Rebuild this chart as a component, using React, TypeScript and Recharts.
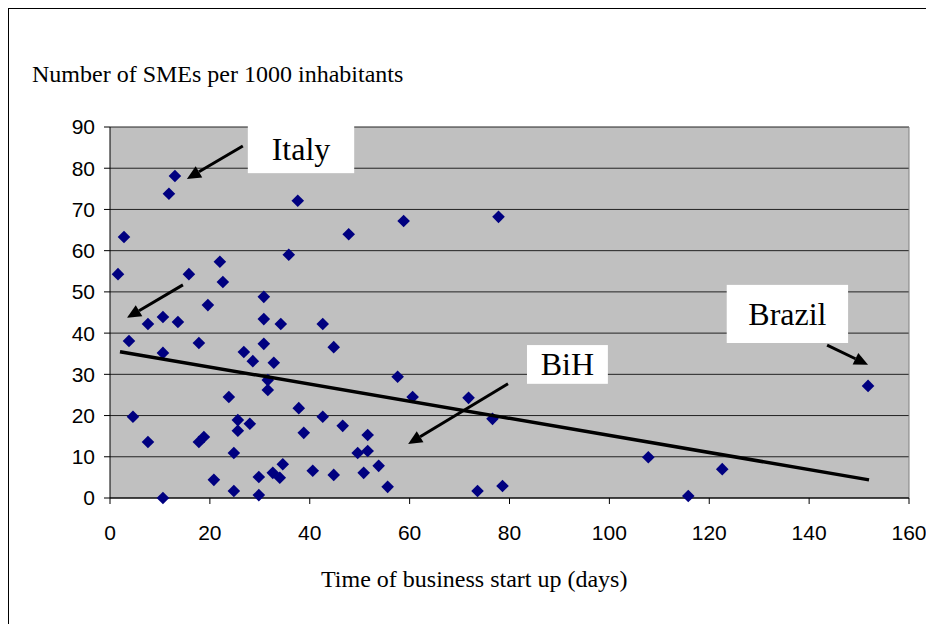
import {
  ScatterChart,
  Scatter,
  XAxis,
  YAxis,
  CartesianGrid,
  ReferenceArea,
  ReferenceLine,
} from 'recharts';

// days to start a business, per country
const DAYS = [
  1.6, 2.8, 3.8, 4.6, 7.6, 7.6, 10.6, 10.6, 10.6, 11.8, 13.0, 13.6, 15.8, 17.8, 17.8, 18.8, 19.6,
  20.8, 22.0, 22.6, 23.8, 24.8, 24.8, 25.6, 25.6, 26.8, 28.0, 28.6, 29.8, 29.8, 30.8, 30.8, 30.8,
  31.6, 31.6, 32.8, 32.6, 34.2, 34.0, 34.6, 35.8, 37.6, 37.8, 38.8, 40.6, 42.6, 42.6, 44.8, 44.8,
  46.6, 47.8, 49.6, 50.8, 51.6, 51.6, 53.8, 55.6, 57.6, 58.8, 60.6, 71.8, 73.6, 76.6, 77.8, 78.6,
  107.8, 115.8, 122.6, 151.8,
];

// SMEs per 1000 inhabitants, same order as DAYS
const SMES = [
  54.3, 63.3, 38.1, 19.7, 13.6, 42.2, 0.0, 43.9, 35.2, 73.8, 78.1, 42.7, 54.3, 37.6, 13.6, 14.8, 46.8,
  4.4, 57.3, 52.4, 24.5, 10.9, 1.7, 18.9, 16.3, 35.4, 18.0, 33.2, 5.1, 0.7, 48.8, 43.4, 37.4,
  28.6, 26.2, 32.8, 6.1, 42.2, 4.9, 8.2, 59.0, 72.1, 21.8, 15.8, 6.6, 42.2, 19.7, 36.6, 5.6,
  17.5, 64.0, 10.9, 6.1, 15.3, 11.4, 7.8, 2.7, 29.4, 67.2, 24.5, 24.3, 1.7, 19.2, 68.2, 2.9,
  9.9, 0.5, 7.0, 27.2,
];

const TREND_DAYS = [2, 152];
const TREND_SMES = [35.5, 4.4];

const X_TICKS = [0, 20, 40, 60, 80, 100, 120, 140, 160];
const Y_TICKS = [0, 10, 20, 30, 40, 50, 60, 70, 80, 90];

const LABELS = ['Italy', 'Brazil', 'BiH'];
const LABEL_X1 = [27.6, 123.5, 83.5];
const LABEL_X2 = [48.9, 147.8, 99.7];
const LABEL_Y1 = [78.8, 37.6, 27.7];
const LABEL_Y2 = [90.3, 51.7, 37.1];

// arrows: tail -> head
const ARROW_FROM_X = [26.6, 14.6, 79.7, 143.6];
const ARROW_FROM_Y = [85.4, 51.7, 27.7, 37.1];
const ARROW_TO_X = [15.4, 3.4, 59.7, 151.8];
const ARROW_TO_Y = [77.4, 43.7, 13.1, 32.3];

const points = DAYS.map((d, i) => ({ x: d, y: SMES[i] }));
const trend = TREND_DAYS.map((d, i) => ({ x: d, y: TREND_SMES[i] }));

const tickStyle = { fill: '#000', fontSize: 21, fontFamily: '"Liberation Sans", Arial, sans-serif' };
const serif = '"Liberation Serif", "Times New Roman", serif';

const Diamond = (props: any) => {
  const { cx, cy } = props;
  if (cx == null || cy == null) return <g />;
  const r = 6.3;
  return (
    <polygon
      points={`${cx},${cy - r} ${cx + r},${cy} ${cx},${cy + r} ${cx - r},${cy}`}
      fill="#000080"
    />
  );
};

const Arrow = (props: any) => {
  const { x1, y1, x2, y2 } = props;
  const a = Math.atan2(y2 - y1, x2 - x1);
  const len = 14;
  const hw = 6.5;
  const bx = x2 - len * Math.cos(a);
  const by = y2 - len * Math.sin(a);
  const px = -Math.sin(a) * hw;
  const py = Math.cos(a) * hw;
  return (
    <g>
      <line x1={x1} y1={y1} x2={bx} y2={by} stroke="#000" strokeWidth={3} />
      <polygon points={`${x2},${y2} ${bx + px},${by + py} ${bx - px},${by - py}`} fill="#000" />
    </g>
  );
};

const labelBox = (text: string) => (props: any) => {
  const { x, y, width, height } = props;
  return (
    <g>
      <rect x={x} y={y} width={width} height={height} fill="#fff" />
      <text
        x={x + width / 2}
        y={y + height / 2 + 11}
        textAnchor="middle"
        fontSize={32}
        fontFamily={serif}
        fill="#000"
      >
        {text}
      </text>
    </g>
  );
};

export default function App() {
  return (
    <div style={{ position: 'relative', width: 926, height: 616 }}>
      <div
        style={{ position: 'absolute', left: 0, top: 0, width: 926, height: 1, background: '#000', zIndex: 2 }}
      />
      <div
        style={{ position: 'absolute', left: 0, top: 0, width: 1, height: 616, background: '#000', zIndex: 2 }}
      />
      <div
        style={{
          position: 'absolute',
          left: 24,
          top: 54,
          fontFamily: serif,
          fontSize: 24,
          lineHeight: '24px',
          whiteSpace: 'nowrap',
        }}
      >
        Number of SMEs per 1000 inhabitants
      </div>
      <div
        style={{
          position: 'absolute',
          left: 313,
          top: 559,
          fontFamily: serif,
          fontSize: 24,
          lineHeight: '24px',
          whiteSpace: 'nowrap',
        }}
      >
        Time of business start up (days)
      </div>
      <div style={{ position: 'absolute', left: 1, top: 0 }}>
        <ScatterChart
          width={925}
          height={608}
          margin={{ top: 119, right: 25, left: 0, bottom: 58 }}
        >
          <CartesianGrid vertical={false} stroke="#222" fill="#c0c0c0" fillOpacity={1} />
          <XAxis
            type="number"
            dataKey="x"
            domain={[0, 160]}
            ticks={X_TICKS}
            interval={0}
            height={60}
            tick={tickStyle}
            tickSize={6}
            tickMargin={21}
            axisLine={{ stroke: '#000' }}
            tickLine={{ stroke: '#000' }}
          />
          <YAxis
            type="number"
            dataKey="y"
            domain={[0, 90]}
            ticks={Y_TICKS}
            interval={0}
            width={101}
            tick={tickStyle}
            tickSize={6}
            tickMargin={9}
            axisLine={{ stroke: '#000' }}
            tickLine={{ stroke: '#000' }}
          />
          <ReferenceLine x={160} stroke="#808080" />
          <Scatter data={points} shape={<Diamond />} isAnimationActive={false} />
          <Scatter
            data={trend}
            line={{ stroke: '#000', strokeWidth: 3.5 }}
            shape={() => <g />}
            isAnimationActive={false}
          />
          {LABELS.map((t, i) => (
            <ReferenceArea
              key={t}
              x1={LABEL_X1[i]}
              x2={LABEL_X2[i]}
              y1={LABEL_Y1[i]}
              y2={LABEL_Y2[i]}
              ifOverflow="visible"
              shape={labelBox(t)}
            />
          ))}
          {ARROW_FROM_X.map((x, i) => (
            <ReferenceLine
              key={i}
              segment={[
                { x, y: ARROW_FROM_Y[i] },
                { x: ARROW_TO_X[i], y: ARROW_TO_Y[i] },
              ]}
              ifOverflow="visible"
              shape={<Arrow />}
            />
          ))}
        </ScatterChart>
      </div>
    </div>
  );
}
